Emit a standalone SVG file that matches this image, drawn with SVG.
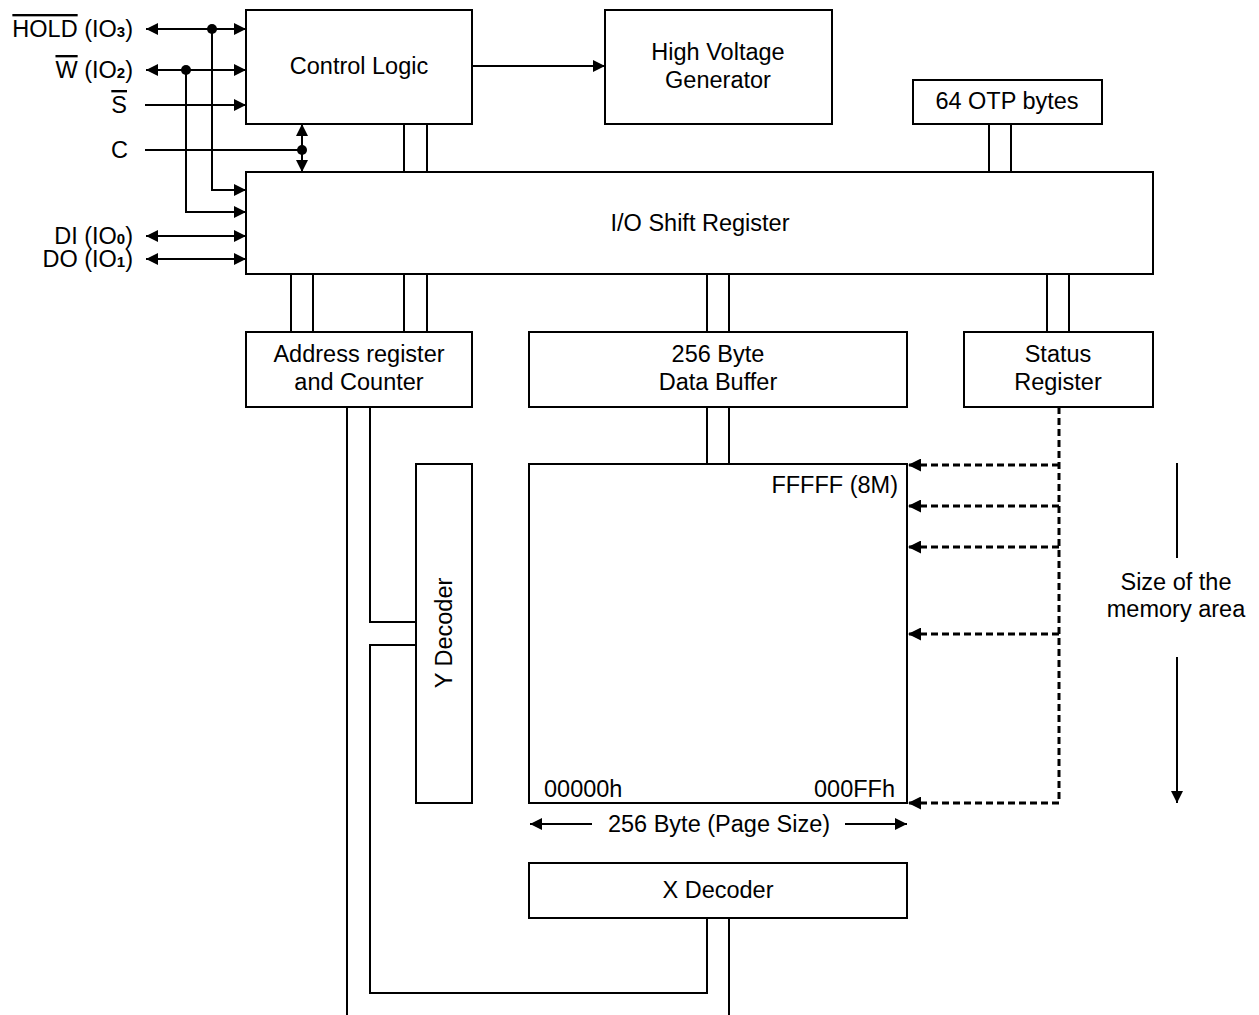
<svg xmlns="http://www.w3.org/2000/svg" width="1259" height="1015" viewBox="0 0 1259 1015">
<style>
.box{fill:#fff;stroke:#000;stroke-width:2}
.ln{fill:none;stroke:#000;stroke-width:2}
.ds{fill:none;stroke:#000;stroke-width:3;stroke-dasharray:7 4}
.t{font-family:"Liberation Sans",Arial,Helvetica,sans-serif;font-size:23.5px;fill:#000}
.m{text-anchor:middle}
.e{text-anchor:end}
.sub{font-size:15px;font-weight:bold}
.ov{text-decoration:overline}
</style>
<defs>
<marker id="a" viewBox="0 0 12 12" refX="12" refY="6" markerWidth="12" markerHeight="12" markerUnits="userSpaceOnUse" orient="auto-start-reverse"><path d="M0,0 L12,6 L0,12 z" fill="#000"/></marker>
<marker id="d" viewBox="0 0 13 13" refX="13" refY="6.5" markerWidth="13" markerHeight="13" markerUnits="userSpaceOnUse" orient="auto"><path d="M0,0 L13,6.5 L0,13 z" fill="#000"/></marker>
</defs>

<g id="connectors">
<!-- left signals -->
<line class="ln" x1="146" y1="29" x2="246" y2="29" marker-start="url(#a)" marker-end="url(#a)"/>
<path class="ln" d="M212,29 V190 H246" marker-end="url(#a)"/>
<circle cx="212" cy="29" r="5"/>
<line class="ln" x1="146" y1="70" x2="246" y2="70" marker-start="url(#a)" marker-end="url(#a)"/>
<path class="ln" d="M186,70 V212 H246" marker-end="url(#a)"/>
<circle cx="186" cy="70" r="5"/>
<line class="ln" x1="145" y1="105" x2="246" y2="105" marker-end="url(#a)"/>
<line class="ln" x1="145" y1="150" x2="302" y2="150"/>
<line class="ln" x1="302" y1="124" x2="302" y2="172" marker-start="url(#a)" marker-end="url(#a)"/>
<circle cx="302" cy="150" r="5"/>
<line class="ln" x1="146" y1="236" x2="246" y2="236" marker-start="url(#a)" marker-end="url(#a)"/>
<line class="ln" x1="146" y1="259" x2="246" y2="259" marker-start="url(#a)" marker-end="url(#a)"/>
<line class="ln" x1="472" y1="66" x2="605" y2="66" marker-end="url(#a)"/>
<!-- buses -->
<path class="ln" d="M404,124 V172 M427,124 V172 M989,124 V172 M1011,124 V172"/>
<path class="ln" d="M291,274 V332 M313,274 V332 M404,274 V332 M427,274 V332 M707,274 V332 M729,274 V332 M1047,274 V332 M1069,274 V332"/>
<path class="ln" d="M707,407 V464 M729,407 V464"/>
<path class="ln" d="M347,407 V1015"/>
<path class="ln" d="M370,407 V622 H416"/>
<path class="ln" d="M416,645 H370 V993 H707 V918"/>
<path class="ln" d="M729,918 V1015"/>
<!-- status dashed -->
<path class="ds" d="M1059,407 V803"/>
<line class="ds" x1="1059" y1="465" x2="908" y2="465" marker-end="url(#d)"/>
<line class="ds" x1="1059" y1="506" x2="908" y2="506" marker-end="url(#d)"/>
<line class="ds" x1="1059" y1="547" x2="908" y2="547" marker-end="url(#d)"/>
<line class="ds" x1="1059" y1="634" x2="908" y2="634" marker-end="url(#d)"/>
<line class="ds" x1="1059" y1="803" x2="908" y2="803" marker-end="url(#d)"/>
<!-- size arrows -->
<line class="ln" x1="1177" y1="463" x2="1177" y2="558"/>
<line class="ln" x1="1177" y1="657" x2="1177" y2="803" marker-end="url(#a)"/>
<line class="ln" x1="592" y1="824" x2="530" y2="824" marker-end="url(#a)"/>
<line class="ln" x1="845" y1="824" x2="907" y2="824" marker-end="url(#a)"/>
</g>

<g id="signals">
<text class="t e" x="133" y="37"><tspan class="ov">HOLD</tspan> (IO<tspan class="sub">3</tspan>)</text>
<text class="t e" x="133" y="78"><tspan class="ov">W</tspan> (IO<tspan class="sub">2</tspan>)</text>
<text class="t e" x="127" y="113"><tspan class="ov">S</tspan></text>
<text class="t e" x="128" y="158">C</text>
<text class="t e" x="133" y="244">DI (IO<tspan class="sub">0</tspan>)</text>
<text class="t e" x="133" y="267">DO (IO<tspan class="sub">1</tspan>)</text>
</g>

<g id="control-logic"><rect class="box" x="246" y="10" width="226" height="114"/><text class="t m" x="359" y="74">Control Logic</text></g>
<g id="hv-generator"><rect class="box" x="605" y="10" width="227" height="114"/><text class="t m" x="718" y="60">High Voltage</text><text class="t m" x="718" y="88">Generator</text></g>
<g id="otp"><rect class="box" x="913" y="80" width="189" height="44"/><text class="t m" x="1007" y="109">64 OTP bytes</text></g>
<g id="io-shift"><rect class="box" x="246" y="172" width="907" height="102"/><text class="t m" x="700" y="231">I/O Shift Register</text></g>
<g id="address-reg"><rect class="box" x="246" y="332" width="226" height="75"/><text class="t m" x="359" y="362">Address register</text><text class="t m" x="359" y="390">and Counter</text></g>
<g id="data-buffer"><rect class="box" x="529" y="332" width="378" height="75"/><text class="t m" x="718" y="362">256 Byte</text><text class="t m" x="718" y="390">Data Buffer</text></g>
<g id="status-reg"><rect class="box" x="964" y="332" width="189" height="75"/><text class="t m" x="1058" y="362">Status</text><text class="t m" x="1058" y="390">Register</text></g>
<g id="memory"><rect class="box" x="529" y="464" width="378" height="339"/><text class="t e" x="898" y="493">FFFFF (8M)</text><text class="t" x="544" y="797">00000h</text><text class="t e" x="895" y="797">000FFh</text></g>
<g id="y-decoder"><rect class="box" x="416" y="464" width="56" height="339"/><text class="t m" transform="translate(452,633) rotate(-90)">Y Decoder</text></g>
<g id="x-decoder"><rect class="box" x="529" y="863" width="378" height="55"/><text class="t m" x="718" y="898">X Decoder</text></g>
<g id="labels"><text class="t m" x="719" y="832">256 Byte (Page Size)</text><text class="t m" x="1176" y="590">Size of the</text><text class="t m" x="1176" y="617">memory area</text></g>
</svg>
